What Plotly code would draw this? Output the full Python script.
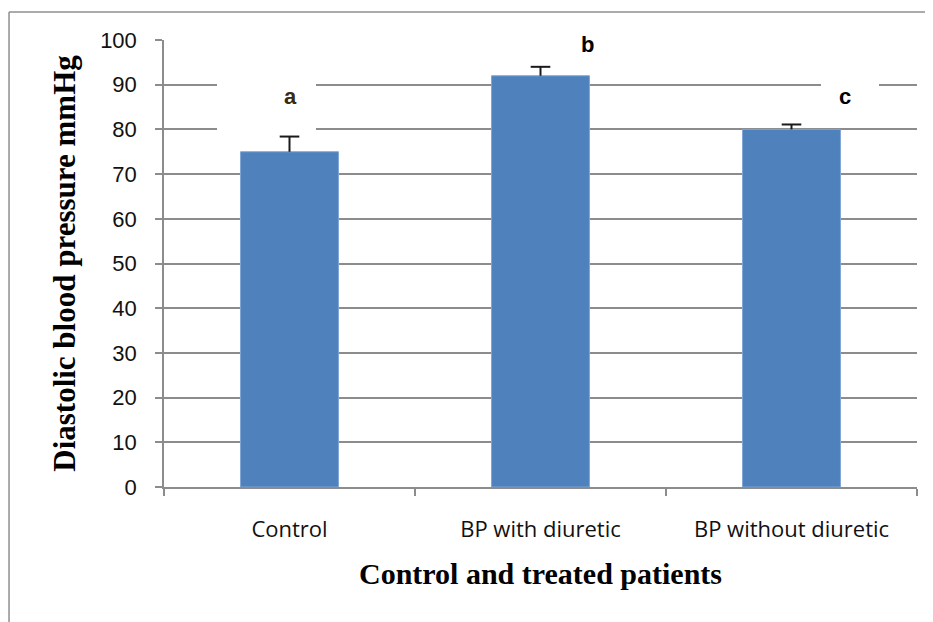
import plotly.graph_objects as go

categories = ["Control", "BP with diuretic", "BP without diuretic"]
means = [75, 92, 80]
errors = [3.4, 2.0, 1.1]
letters = ["a", "b", "c"]
y_ticks = [0, 10, 20, 30, 40, 50, 60, 70, 80, 90, 100]

GRID = "#8c8c8c"
BAR = "#4F81BD"

fig = go.Figure()
fig.add_trace(go.Bar(
    x=categories, y=means, width=0.39,
    marker=dict(color=BAR, line=dict(color="#7fa6d4", width=1)),
    showlegend=False, hoverinfo="skip",
))
# error stems (upper only)
fig.add_trace(go.Scatter(
    x=categories, y=means, mode="markers",
    marker=dict(size=0.1, color="rgba(0,0,0,0)"),
    error_y=dict(type="data", symmetric=False, array=errors,
                 arrayminus=[0] * len(errors), width=0, thickness=2, color="#1a1a1a"),
    showlegend=False, hoverinfo="skip",
))
# error caps
fig.add_trace(go.Scatter(
    x=categories, y=[m + e for m, e in zip(means, errors)], mode="markers",
    marker=dict(symbol="line-ew", size=14, line=dict(width=2, color="#1a1a1a")),
    showlegend=False, hoverinfo="skip",
))

# white masks behind letters (as in the original text boxes)
masks = [  # (xshift, ycentre, width, height)
    (-23, 85.2, 99, 56),
    (46, 98.9, 59, 28),
    (58.5, 86.8, 58, 30),
]
letter_pos = [(0.5, 87.3), (46.5, 98.9), (53.5, 87.4)]
letter_col = ["#3a2a10", "#000000", "#000000"]
for i, cat in enumerate(categories):
    xs, yc, w, h = masks[i]
    fig.add_annotation(x=cat, y=yc, xref="x", yref="y", xshift=xs, text=" ",
                       showarrow=False, width=w, height=h, bgcolor="white",
                       borderpad=0, borderwidth=0)
for i, cat in enumerate(categories):
    xs, yv = letter_pos[i]
    fig.add_annotation(x=cat, y=yv, xref="x", yref="y", xshift=xs, text="<b>%s</b>" % letters[i],
                       showarrow=False,
                       font=dict(family="Liberation Sans, Arial", size=22, color=letter_col[i]))

# outer frame: top and left edges only
frame_line = dict(color="#8f8f8f", width=1.5)
fig.add_shape(type="line", xref="paper", yref="paper",
              x0=-0.2058, x1=1.0212, y0=1.0626, y1=1.0626, line=frame_line, layer="below")
fig.add_shape(type="line", xref="paper", yref="paper",
              x0=-0.2058, x1=-0.2058, y0=-0.302, y1=1.0626, line=frame_line, layer="below")

fig.update_layout(
    width=925, height=614,
    margin=dict(l=156, r=16, t=32, b=135, autoexpand=False),
    paper_bgcolor="white", plot_bgcolor="white",
    bargap=0.61,
    xaxis=dict(
        type="category", tickson="boundaries", ticks="outside", ticklen=7,
        tickcolor=GRID, tickwidth=1.5, automargin=False,
        showline=True, linecolor=GRID, linewidth=1.5, showgrid=False,
        tickfont=dict(family="Open Sans", size=22, color="#111111"),
        ticklabelstandoff=22,
        title=dict(text="<b>Control and treated patients</b>",
                   font=dict(family="Liberation Serif, Times New Roman", size=30, color="#000000"),
                   standoff=21),
        range=[-0.5, 2.5],
    ),
    yaxis=dict(
        range=[0, 100], tickvals=y_ticks, ticks="outside", ticklen=7,
        tickcolor=GRID, tickwidth=1.5, automargin=False,
        showline=True, linecolor=GRID, linewidth=1.5,
        showgrid=True, gridcolor=GRID, gridwidth=1.5, zeroline=False,
        tickfont=dict(family="Liberation Sans, Arial", size=22, color="#111111"),
        ticklabelstandoff=14,
        title=dict(text="<b>Diastolic blood pressure mmHg</b>",
                   font=dict(family="Liberation Serif, Times New Roman", size=31, color="#000000"),
                   standoff=15),
    ),
)

fig.write_html("out.html")
